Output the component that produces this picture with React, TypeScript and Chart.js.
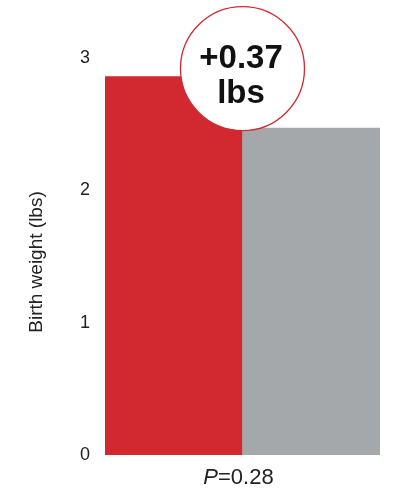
import React, { useEffect, useRef } from "react";
import { Chart, registerables } from "chart.js";

Chart.register(...registerables);

const categories = ["Group A", "Group B"];
const birthWeights = [2.86, 2.47];
const barColors = ["#D2282F", "#A5A8AB"];
const yTicks = [0, 1, 2, 3];
const diffLabel = ["+0.37", "lbs"];
const pLabel = { italic: "P", rest: "=0.28" };
const yTitle = "Birth weight (lbs)";

const FONT = "'Liberation Sans', Arial, Helvetica, sans-serif";

const overlayPlugin = {
  id: "overlay",
  afterDatasetsDraw(chart: any) {
    const { ctx, chartArea, scales } = chart;
    const cx = (chartArea.left + chartArea.right) / 2;
    const cy = scales.y.getPixelForValue(2.92);
    const r = 62;
    ctx.save();
    ctx.beginPath();
    ctx.arc(cx, cy, r, 0, Math.PI * 2);
    ctx.fillStyle = "#ffffff";
    ctx.fill();
    ctx.lineWidth = 1.3;
    ctx.strokeStyle = "#D2282F";
    ctx.stroke();
    ctx.fillStyle = "#111111";
    ctx.textAlign = "center";
    ctx.textBaseline = "alphabetic";
    ctx.font = `bold 33px ${FONT}`;
    ctx.fillText(diffLabel[0], cx - 1.5, cy - 0.5);
    ctx.fillText(diffLabel[1], cx - 1.5, cy + 34.5);

    // x label with italic P
    ctx.font = `italic 22px ${FONT}`;
    const w1 = ctx.measureText(pLabel.italic).width;
    ctx.font = `22px ${FONT}`;
    const w2 = ctx.measureText(pLabel.rest).width;
    const startX = cx - 4 - (w1 + w2) / 2;
    const by = chartArea.bottom + 29;
    ctx.fillStyle = "#222222";
    ctx.textAlign = "left";
    ctx.font = `italic 22px ${FONT}`;
    ctx.fillText(pLabel.italic, startX, by);
    ctx.font = `22px ${FONT}`;
    ctx.fillText(pLabel.rest, startX + w1, by);

    // y axis title
    ctx.translate(37, (chartArea.top + chartArea.bottom) / 2 + 5.5);
    ctx.rotate(-Math.PI / 2);
    ctx.textAlign = "center";
    ctx.textBaseline = "middle";
    ctx.font = `19px ${FONT}`;
    ctx.fillStyle = "#222222";
    ctx.fillText(yTitle, 0, 0);
    ctx.restore();
  },
};

export default function App() {
  const canvasRef = useRef<HTMLCanvasElement | null>(null);

  useEffect(() => {
    document.body.style.margin = "0";
    const canvas = canvasRef.current;
    if (!canvas) return;
    const chart = new Chart(canvas, {
      type: "bar",
      data: {
        labels: categories,
        datasets: [
          {
            data: birthWeights,
            backgroundColor: barColors,
            borderWidth: 0,
            categoryPercentage: 1,
            barPercentage: 1,
          },
        ],
      },
      options: {
        responsive: false,
        animation: false,
        devicePixelRatio: 1,
        layout: { padding: { top: 58, bottom: 34, right: 13, left: 0 } },
        plugins: { legend: { display: false }, tooltip: { enabled: false } },
        scales: {
          x: { display: false },
          y: {
            min: 0,
            max: 3,
            afterBuildTicks: (scale: any) => {
              scale.ticks = yTicks.map((v) => ({ value: v }));
            },
            afterFit: (scale: any) => {
              scale.width = 105;
            },
            grid: { display: false, drawTicks: false },
            border: { display: false },
            ticks: {
              padding: 15,
              color: "#222222",
              font: { family: FONT, size: 18 },
            },
          },
        },
      },
      plugins: [overlayPlugin],
    });
    return () => chart.destroy();
  }, []);

  return (
    <div style={{ width: 393, height: 489 }}>
      <canvas ref={canvasRef} width={393} height={489} style={{ width: 393, height: 489, display: "block" }} />
    </div>
  );
}
